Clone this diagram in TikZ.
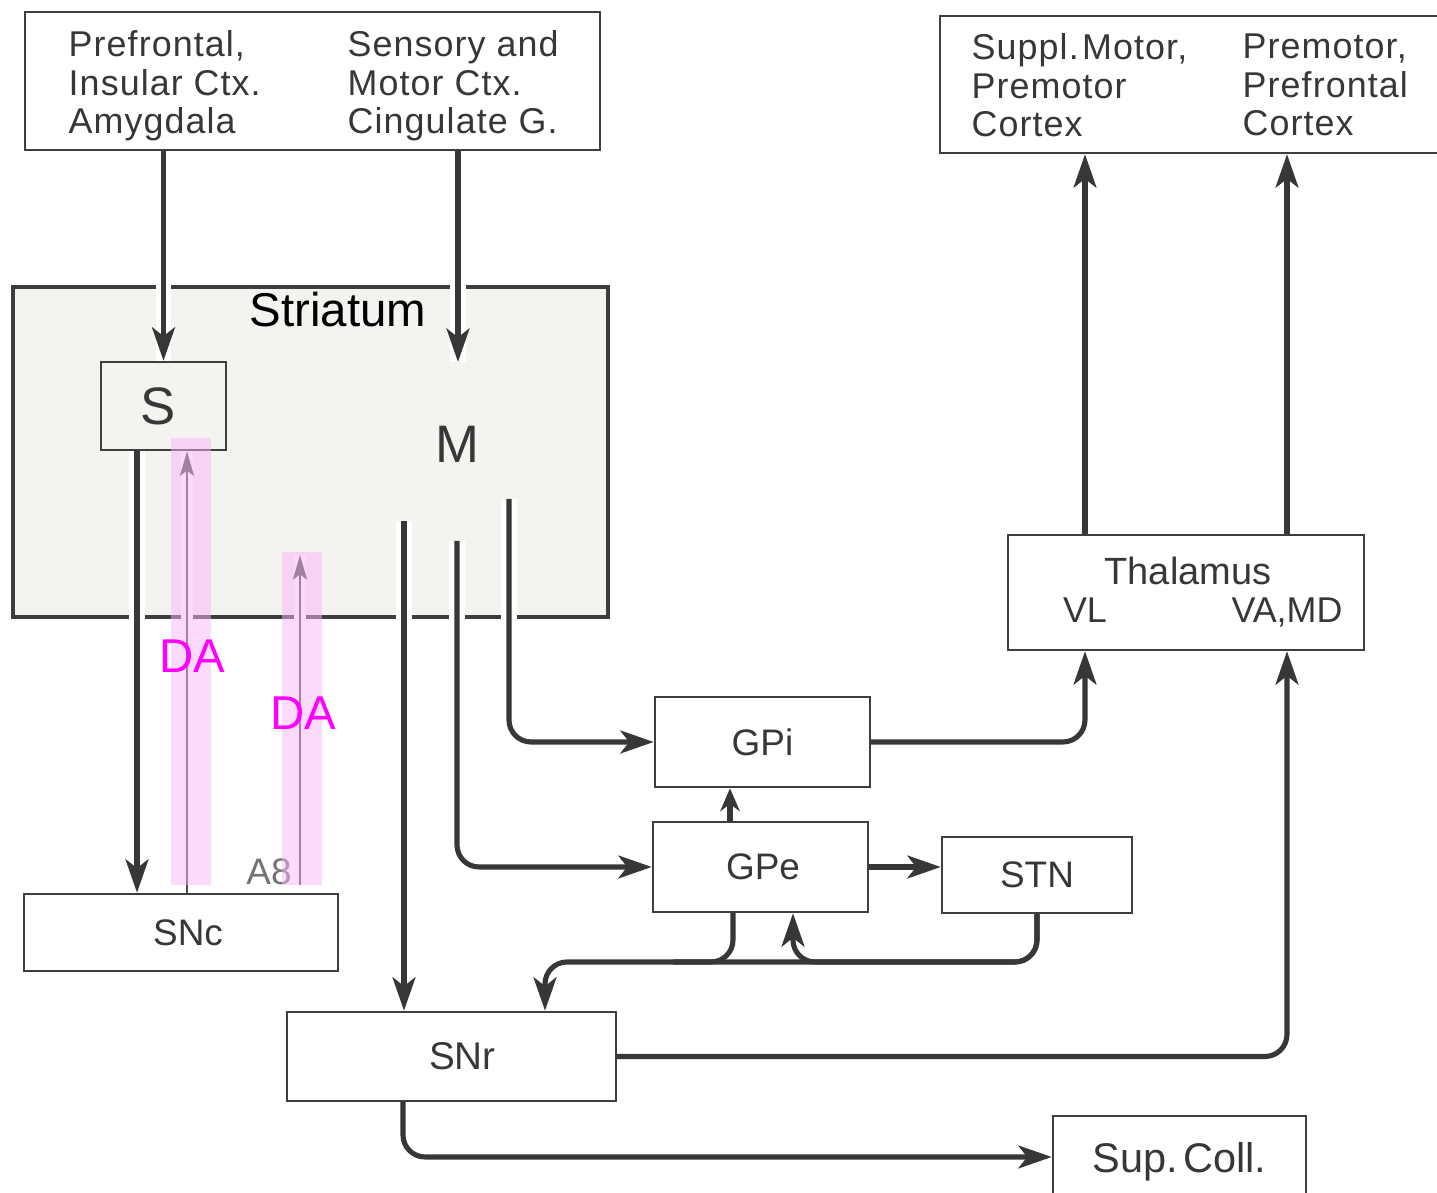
\documentclass[tikz,border=0pt]{standalone}
\usepackage{fontspec}
\setmainfont{Liberation Sans}
\newfontfamily\ctxfont[LetterSpace=3]{Liberation Sans}
\usetikzlibrary{arrows.meta,positioning,calc}
\definecolor{bgInk}    {RGB}{ 62, 62, 62}
\definecolor{bgLine}   {RGB}{ 55, 55, 55}
\definecolor{bgText}   {RGB}{ 55, 55, 55}
\definecolor{bgGrey}   {RGB}{115,115,115}
\definecolor{bgStipple}{RGB}{243,243,240}
\definecolor{bgPink}   {RGB}{249,181,249}
\definecolor{bgMagenta}{RGB}{255,  0,255}

\begin{document}
\begin{tikzpicture}[
  every node/.style={text=bgText,inner sep=0pt},
  box/.style={draw=bgInk,line width=0.7pt,font=\fontsize{10.5}{12}\selectfont},
  ctx/.style={align=left,anchor=north west,font=\ctxfont\fontsize{10.2}{11}\selectfont},
  lbl/.style={anchor=base,font=\fontsize{10.5}{12}\selectfont},
  big/.style={font=\fontsize{15}{16}\selectfont},
  conn/.style={draw=bgLine,line width=1.45pt,rounded corners=0.22cm,
               -{Stealth[length=9.5pt,width=6.5pt,inset=2.5pt]}},
  cut/.style={conn,preaction={draw=white,line width=4.5pt,-}},
  da/.style={draw=black!70,line width=0.7pt,-{Stealth[length=7pt,width=4pt,inset=1.5pt]},
             preaction={draw=white,line width=3.5pt,-}},
  dahl/.style={fill=bgPink,opacity=0.5},
  dalbl/.style={anchor=base,text=bgMagenta,font=\fontsize{13.5}{14}\selectfont}
]
\useasboundingbox (0,0) rectangle (14.37,11.93);

% striatum
\node[draw=bgInk,line width=0.9pt,fill=bgStipple,minimum width=5.95cm,minimum height=3.30cm] (str) at (3.105,7.41) {};
\node[anchor=base,text=black,font=\fontsize{13.5}{14}\selectfont] (strName) at (3.38,8.66) {Striatum};
\node[box,big,minimum width=1.25cm,minimum height=0.88cm] (S) at (1.635,7.87) {S\hspace*{0.1cm}};
\node[anchor=base,big] (M) at (4.57,7.30) {M};

% cortex
\node[box,minimum width=5.75cm,minimum height=1.38cm] (ctxIn)  at (3.125,11.12) {};
\node[box,minimum width=5.04cm,minimum height=1.37cm] (ctxOut) at (11.92,11.085) {};
\node[ctx] (ctxInA)  at (0.68,11.63) {Prefrontal,\\Insular Ctx.\\Amygdala};
\node[ctx] (ctxInB)  at (3.47,11.63) {Sensory and\\Motor Ctx.\\Cingulate G.};
\node[ctx] (ctxOutA) at (9.71,11.60) {Suppl.\kern1pt Motor,\\Premotor\\Cortex};
\node[ctx] (ctxOutB) at (12.42,11.60) {Premotor,\\Prefrontal\\Cortex};

% nuclei
\node[box,minimum width=3.14cm,minimum height=0.77cm] (SNc) at (1.81,2.605) {\hspace*{0.14cm}SNc};
\node[box,font=\fontsize{11}{12}\selectfont,minimum width=3.29cm,minimum height=0.89cm] (SNr) at (4.515,1.365) {\hspace*{0.22cm}SNr};
\node[box,minimum width=2.15cm,minimum height=0.90cm] (GPi) at (7.625,4.51) {GPi};
\node[box,minimum width=2.15cm,minimum height=0.90cm] (GPe) at (7.605,3.26) {\hspace*{0.05cm}GPe};
\node[box,minimum width=1.90cm,minimum height=0.76cm] (STN) at (10.37,3.18) {STN};
\node[box,minimum width=3.56cm,minimum height=1.15cm] (Thal) at (11.86,6.005) {};
\node[lbl,font=\fontsize{10.8}{12}\selectfont] (ThalName) at (11.88,6.08) {Thalamus};
\node[lbl,font=\fontsize{10.2}{12}\selectfont] (VL)   at (10.85,5.70) {VL};
\node[lbl,font=\fontsize{10.2}{12}\selectfont] (VAMD) at (12.87,5.70) {VA,MD};
\node[box,font=\fontsize{11.8}{13}\selectfont,text depth=0pt,minimum width=2.53cm,minimum height=0.82cm] (SupColl) at (11.795,0.36) {Sup.\kern1.5pt Coll.};
\node[lbl,text=bgGrey] (A8) at (2.69,3.08) {A8};

% inputs
\coordinate (Min) at (4.58,8.31);
\draw[cut] (S.north |- ctxIn.south) -- (S.north);
\draw[cut] (Min |- ctxIn.south) -- (Min);

% striatal outputs
\coordinate (m1) at (4.04,6.72);
\coordinate (m2) at (4.57,6.52);
\coordinate (m3) at (5.09,6.94);
\draw[cut] ([xshift=-2.65mm]S.south) -- ([xshift=-2.65mm]S.south |- SNc.north);
\draw[cut] (m1) -- (m1 |- SNr.north);
\draw[cut] (m2) |- (GPe.west);
\draw[cut] (m3) |- (GPi.west);

% pallidum, STN, thalamus
\draw[cut,-{Stealth[length=6.5pt,width=5.5pt,inset=2pt]}] ([xshift=-3.05mm]GPe.north) -- ([xshift=-3.05mm]GPe.north |- GPi.south);
\draw[cut] (GPe.east) -- (GPe.east -| STN.west);
\draw[cut] (GPi.east) -| (VL |- Thal.south);
\draw[cut] (SNr.east) -| (VAMD |- Thal.south);
\draw[cut] (VL |- Thal.north) -- (VL |- ctxOut.south);
\draw[cut] (VAMD |- Thal.north) -- (VAMD |- ctxOut.south);
\draw[cut] ([xshift=-4.85mm]SNr.south) |- (SupColl.west);

\coordinate (bus) at (5.45,2.31);
\draw[conn,-] ([xshift=-2.75mm]GPe.south) -- ([xshift=-2.75mm]GPe.south |- bus) -- ++(-0.6,0);
\draw[conn] (STN.south) |- ([xshift=3.25mm]GPe.south |- bus) -- ([xshift=3.25mm]GPe.south);
\draw[conn] (STN.south) |- (bus) -- (bus |- SNr.north);

% dopamine
\coordinate (daTip) at (3.00,6.38);
\draw[da] ([xshift=2.35mm]S.south |- SNc.north) -- ([xshift=2.35mm]S.south);
\draw[da] (daTip |- A8.base) -- (daTip);
\fill[dahl] (1.71,3.08) rectangle (2.11,7.55);
\fill[dahl] (2.82,3.08) rectangle (3.22,6.41);
\node[dalbl] (daA) at (1.92,5.20) {DA};
\node[dalbl] (daB) at (3.03,4.63) {DA};
\end{tikzpicture}
\end{document}
